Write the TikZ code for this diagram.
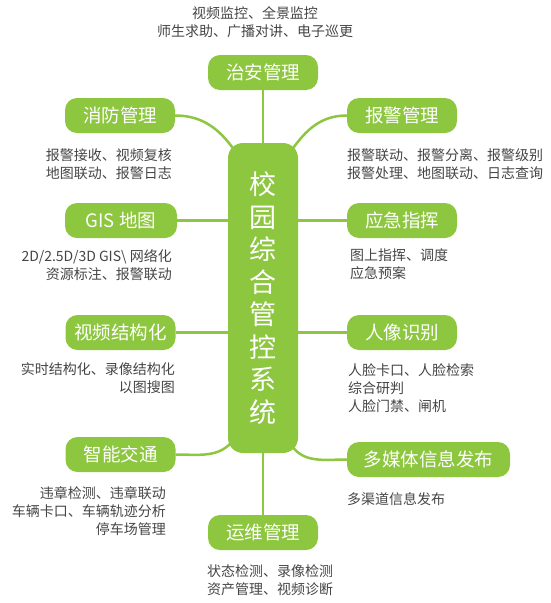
\documentclass[tikz,border=0pt]{standalone}
\usepackage{fontspec}
\setmainfont{Noto Sans CJK SC}
\usepackage{tikz}
\usetikzlibrary{arrows.meta,positioning,calc,backgrounds}
\definecolor{leaf}{HTML}{8DC63F}
\definecolor{note}{HTML}{454545}

\begin{document}
\begin{tikzpicture}[x=1pt, y=-1pt,
  topic/.style={fill=leaf, text=white, rounded corners=12pt, minimum width=110pt,
    minimum height=35pt, inner sep=0pt, font=\fontsize{18.5}{22}\selectfont},
  detail/.style={text=note, inner sep=0pt, font=\fontsize{14}{18}\selectfont},
  link/.style={draw=leaf, line width=2.5pt}]
  \useasboundingbox (0,0) rectangle (551,603);
  \node[topic, minimum width=70pt, minimum height=310pt, rounded corners=15pt,
    align=center, font=\fontsize{27}{32.5}\selectfont] (hub) at (263,298)
    {校\\园\\综\\合\\管\\控\\系\\统};
  \node[topic] (zhian) at (263,72.5) {治安管理};
  \node[topic] (xiaofang) at (120,115.5) {消防管理};
  \node[topic] (baojing) at (402,115.5) {报警管理};
  \node[topic, minimum width=112pt] (gis) at (121,220.5) {GIS 地图};
  \node[topic] (yingji) at (402,220.5) {应急指挥};
  \node[topic] (jiegou) at (120.5,332.5) {视频结构化};
  \node[topic] (renxiang) at (402,332.5) {人像识别};
  \node[topic] (jiaotong) at (120.5,454.5) {智能交通};
  \node[topic, minimum width=163pt] (meiti) at (428.5,459.5) {多媒体信息发布};
  \node[topic] (yunwei) at (263,532.5) {运维管理};

  \node[detail, align=center] (zhian-d) at (255,22) {视频监控、全景监控\\师生求助、广播对讲、电子巡更};
  \node[detail, align=right, anchor=east] (xiaofang-d) at (172,164) {报警接收、视频复核\\地图联动、报警日志};
  \node[detail, align=left, anchor=west] (baojing-d) at (347,164) {报警联动、报警分离、报警级别\\报警处理、地图联动、日志查询};
  \node[detail, align=right, anchor=east] (gis-d) at (172,265) {2D/2.5D/3D GIS\textbackslash{} 网络化\\资源标注、报警联动};
  \node[detail, align=left, anchor=west] (yingji-d) at (350,264.5) {图上指挥、调度\\应急预案};
  \node[detail, align=right, anchor=east] (jiegou-d) at (175,378.5) {实时结构化、录像结构化\\以图搜图};
  \node[detail, align=left, anchor=west] (renxiang-d) at (348,388) {人脸卡口、人脸检索\\综合研判\\人脸门禁、闸机};
  \node[detail, align=right, anchor=east] (jiaotong-d) at (166,511) {违章检测、违章联动\\车辆卡口、车辆轨迹分析\\停车场管理};
  \node[detail, align=left, anchor=west] (meiti-d) at (347,499) {多渠道信息发布};
  \node[detail, align=left, anchor=west] (yunwei-d) at (207,580) {状态检测、录像检测\\资产管理、视频诊断};

  \begin{scope}[on background layer]
    \draw[link] (zhian) -- (hub);
    \draw[link] (yunwei) -- (hub);
    \draw[link] (gis.east) -- (gis.east -| hub.center);
    \draw[link] (yingji.west) -- (yingji.west -| hub.center);
    \draw[link] (jiegou.east) -- (jiegou.east -| hub.center);
    \draw[link] (renxiang.west) -- (renxiang.west -| hub.center);
    \draw[link] (xiaofang.east) to[out=0, in=125] ($(hub.north west)+(7,8)$);
    \draw[link] (baojing.west) to[out=180, in=55] ($(hub.north east)+(-7,8)$);
    \draw[link] (jiaotong.east) to[out=0, in=235] ($(hub.south west)+(6,-14)$);
    \draw[link] (meiti.west) to[out=180, in=-55] ($(hub.south east)+(-7,-8)$);
  \end{scope}
\end{tikzpicture}
\end{document}
